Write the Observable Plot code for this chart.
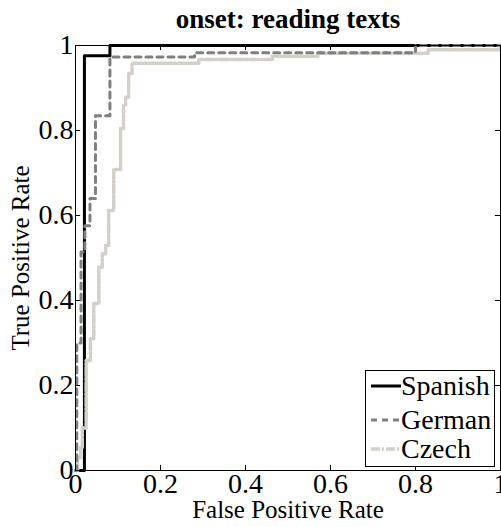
<!DOCTYPE html>
<html>
<head>
<meta charset="utf-8">
<script src="https://cdn.jsdelivr.net/npm/d3@7"></script>
<script src="https://cdn.jsdelivr.net/npm/@observablehq/plot@0.6"></script>
<style>
  html, body { margin: 0; padding: 0; background: #fff; }
  #wrap { position: relative; width: 501px; height: 527px; font-family: "Liberation Serif", "Times New Roman", serif; }
  #legend { position: absolute; left: 365px; top: 370px; width: 128px; height: 95px; border: 1px solid #000; background: #fff; }
  .row { position: absolute; left: 5px; height: 30px; display: flex; align-items: center; }
  .row svg { width: 30px; height: 10px; margin-right: 0px; }
  .row span { font-size: 28px; line-height: 30px; color: #000; }
</style>
</head>
<body>
<div id="wrap"></div>
<script>
const title = "onset: reading texts";
const xLabel = "False Positive Rate";
const yLabel = "True Positive Rate";
const tickValues = [0, 0.2, 0.4, 0.6, 0.8, 1];
const tickLabels = ["0", "0.2", "0.4", "0.6", "0.8", "1"];
const seriesNames = ["Spanish", "German", "Czech"];
const seriesColors = ["#000000", "#7f7f7f", "#d3d0ca"];

const spanishFPR = [0, 0.021, 0.021, 0.081, 0.081, 1];
const spanishTPR = [0, 0, 0.976, 0.976, 1, 1];

const germanFPR = [0, 0.003, 0.003, 0.013, 0.013, 0.022, 0.022, 0.034, 0.034, 0.047, 0.047, 0.081, 0.081, 0.28, 0.28, 0.8, 0.8, 1];
const germanTPR = [0, 0, 0.30, 0.30, 0.514, 0.514, 0.576, 0.576, 0.64, 0.64, 0.835, 0.835, 0.973, 0.973, 0.983, 0.983, 1, 1];

const czechFPR = [0, 0.005, 0.005, 0.012, 0.012, 0.016, 0.016, 0.025, 0.025, 0.035, 0.035, 0.043, 0.043, 0.055, 0.055, 0.063, 0.063, 0.071, 0.071, 0.078, 0.078, 0.090, 0.090, 0.106, 0.106, 0.113, 0.113, 0.118, 0.118, 0.125, 0.125, 0.133, 0.133, 0.29, 0.29, 0.463, 0.463, 0.57, 0.57, 0.83, 0.83, 1, 1];
const czechTPR = [0, 0, 0.03, 0.03, 0.055, 0.055, 0.10, 0.10, 0.259, 0.259, 0.31, 0.31, 0.393, 0.393, 0.478, 0.478, 0.51, 0.51, 0.53, 0.53, 0.612, 0.612, 0.708, 0.708, 0.805, 0.805, 0.859, 0.859, 0.878, 0.878, 0.934, 0.934, 0.958, 0.958, 0.967, 0.967, 0.975, 0.975, 0.982, 0.982, 0.99, 0.99, 1];

const toRows = (xs, ys) => xs.map((x, i) => ({x, y: ys[i]}));
const spanish = toRows(spanishFPR, spanishTPR);
const german = toRows(germanFPR, germanTPR);
const czech = toRows(czechFPR, czechTPR);

const lineStyles = [
  {strokeWidth: 3, strokeDasharray: null},
  {strokeWidth: 3, strokeDasharray: "6,5"},
  {strokeWidth: 3.5, strokeDasharray: "9,2,2,2"}
];
const tickLen = 0.012;
const fmt = (d) => tickLabels[tickValues.indexOf(d)];

const chart = Plot.plot({
  width: 501,
  height: 527,
  marginLeft: 75,
  marginRight: 1,
  marginTop: 45,
  marginBottom: 57,
  style: {fontFamily: "'Liberation Serif', 'Times New Roman', serif", fontSize: "28px", color: "#000", background: "#fff", overflow: "visible"},
  x: {domain: [0, 1]},
  y: {domain: [0, 1]},
  marks: [
    Plot.axisX(tickValues, {anchor: "bottom", tickSize: 0, tickPadding: 3, label: null, fontSize: 28, tickFormat: fmt}),
    Plot.axisY(tickValues, {anchor: "left", tickSize: 0, tickPadding: 2, label: null, fontSize: 28, tickFormat: fmt}),
    Plot.ruleX(tickValues, {x: d => d, y1: 0, y2: tickLen, stroke: "#000", strokeWidth: 1}),
    Plot.ruleX(tickValues, {x: d => d, y1: 1, y2: 1 - tickLen, stroke: "#000", strokeWidth: 1}),
    Plot.ruleY(tickValues, {y: d => d, x1: 0, x2: tickLen, stroke: "#000", strokeWidth: 1}),
    Plot.ruleY(tickValues, {y: d => d, x1: 1, x2: 1 - tickLen, stroke: "#000", strokeWidth: 1}),
    Plot.line(spanish, {x: "x", y: "y", stroke: seriesColors[0], ...lineStyles[0]}),
    Plot.line(czech, {x: "x", y: "y", stroke: seriesColors[2], ...lineStyles[2]}),
    Plot.line(german, {x: "x", y: "y", stroke: seriesColors[1], ...lineStyles[1]}),
    Plot.frame({stroke: "#000", strokeWidth: 1}),
    Plot.text([title], {frameAnchor: "top", textAnchor: "middle", lineAnchor: "middle", dy: -26, fontSize: 27, fontWeight: "bold", fill: "#000"}),
    Plot.text([xLabel], {frameAnchor: "bottom", textAnchor: "middle", lineAnchor: "middle", dy: 39, fontSize: 25, fill: "#000"}),
    Plot.text([yLabel], {frameAnchor: "left", textAnchor: "middle", lineAnchor: "middle", dx: -55, rotate: -90, fontSize: 25, fill: "#000"})
  ]
});
const wrap = document.getElementById("wrap");
wrap.appendChild(chart);

const legend = document.createElement("div");
legend.id = "legend";
const rowTops = [0, 34, 63];
seriesNames.forEach((name, i) => {
  const row = document.createElement("div");
  row.className = "row";
  row.style.top = rowTops[i] + "px";
  const dash = lineStyles[i].strokeDasharray ? ` stroke-dasharray="${lineStyles[i].strokeDasharray}"` : "";
  row.innerHTML = `<svg viewBox="0 0 30 10"><line x1="0" y1="5" x2="30" y2="5" stroke="${seriesColors[i]}" stroke-width="${lineStyles[i].strokeWidth}"${dash}/></svg><span>${name}</span>`;
  legend.appendChild(row);
});
wrap.appendChild(legend);
</script>
</body>
</html>
